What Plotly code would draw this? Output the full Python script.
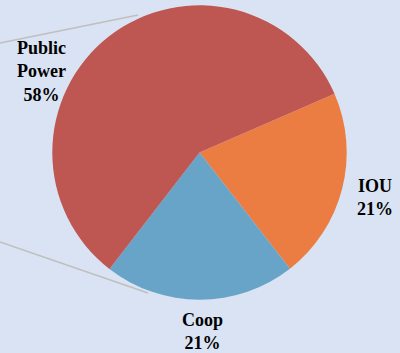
import plotly.graph_objects as go

labels = ["IOU", "Coop", "Public Power"]
values = [21, 21, 58]
colors = ["#EB7D43", "#68A3C8", "#BE5651"]
label_text = ["IOU<br>21%", "Coop<br>21%", "Public<br>Power<br>58%"]

W, H = 400, 353
bg = "#D9E3F3"

fig = go.Figure()
fig.add_trace(go.Pie(
    labels=labels, values=values, sort=False, direction="clockwise",
    rotation=66.5, textinfo="none", hoverinfo="label+percent",
    marker=dict(colors=colors, line=dict(width=0)),
    domain=dict(x=[52.3/W, 346.7/W], y=[(H-300)/H, (H-5)/H]),
    showlegend=False,
))

# label positions (pixels)
pos = {"IOU": (374.5, 197.5), "Coop": (202.5, 331), "Public Power": (41, 71.5)}
for lab, txt in zip(labels, label_text):
    x, y = pos[lab]
    fig.add_annotation(x=x/W, y=1-y/H, xref="paper", yref="paper", text="<b>"+txt+"</b>",
                       showarrow=False, xanchor="center", yanchor="middle",
                       font=dict(family="Liberation Serif", size=18, color="#000000"))

# leader lines
for (x0, y0, x1, y1) in [(0, 43, 138, 15), (0, 242, 148, 293)]:
    fig.add_shape(type="line", xref="paper", yref="paper",
                  x0=x0/W, y0=1-y0/H, x1=x1/W, y1=1-y1/H,
                  line=dict(color="#BFBFBF", width=1.5))

fig.update_layout(width=W, height=H, margin=dict(l=0, r=0, t=0, b=0),
                  paper_bgcolor=bg, plot_bgcolor=bg)
fig.write_html("out.html")
